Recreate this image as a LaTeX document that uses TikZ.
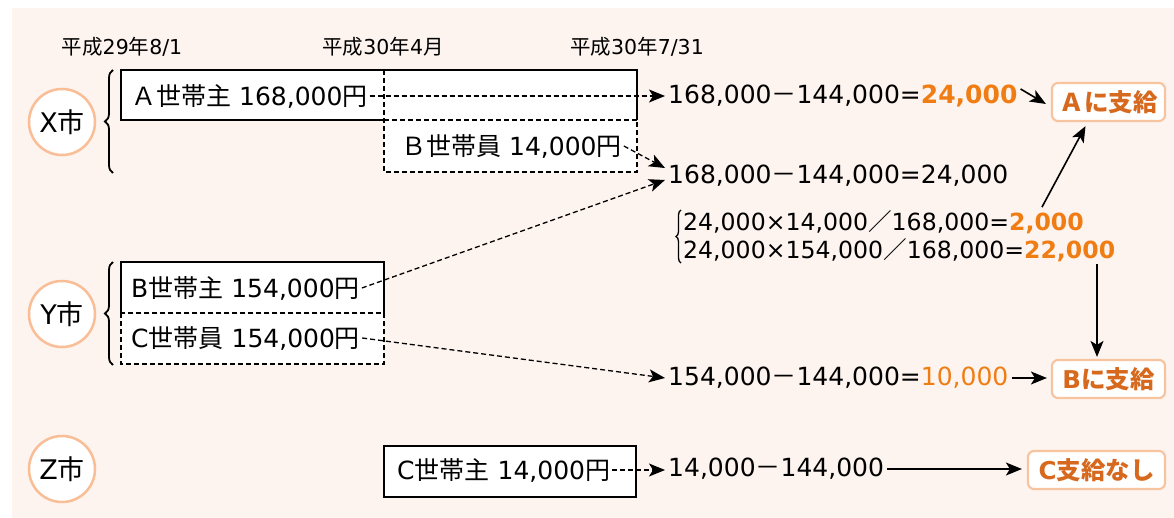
\documentclass[tikz,border=0pt]{standalone}
\usepackage{fontspec}
\setmainfont{DejaVu Sans}
\newfontfamily\jpf{Noto Sans CJK JP}
\newcommand\J[1]{{\jpf #1}}
\usetikzlibrary{arrows.meta,decorations.pathreplacing}
\definecolor{bgpink}{RGB}{253,243,239}
\definecolor{orng}{RGB}{240,125,20}
\definecolor{payt}{RGB}{214,105,30}
\definecolor{payb}{RGB}{248,196,160}
\definecolor{circ}{RGB}{249,190,150}
\begin{document}
\begin{tikzpicture}[x=1pt,y=-1pt,
  lbl/.style={inner sep=0pt, anchor=west, font=\fontsize{25}{30}\selectfont},
  fml/.style={inner sep=0pt, anchor=west, font=\fontsize{23.6}{28}\selectfont},
  datelbl/.style={inner sep=0pt, font=\fontsize{20.5}{24}\selectfont},
  city/.style={circle, draw=circ, line width=2.5pt, fill=white, minimum size=66pt, inner sep=0pt, font=\fontsize{27}{30}\selectfont},
  pay/.style={rounded corners=6pt, draw=payb, line width=2.2pt, fill=white, text=payt, font=\fontsize{24.5}{28}\selectfont\bfseries, inner sep=0pt, minimum height=38pt},
  solidline/.style={line width=1.3pt},
  dashline/.style={line width=1.1pt, dash pattern=on 5pt off 3pt},
  darr/.style={line width=1.3pt, dash pattern=on 5pt off 3pt, -{Stealth[length=16pt,width=13pt,inset=4pt]}},
  sarr/.style={line width=1.6pt, -{Stealth[length=16pt,width=13pt,inset=4pt]}},
  bracestyle/.style={line width=1.8pt, decorate, decoration={brace, amplitude=8pt}}
]
\useasboundingbox (0,0) rectangle (1174,518);
\fill[bgpink] (12,8) rectangle (1174,518);

% dates
\node[datelbl] (d1) at (122,47) {\J{平成}29\J{年}8/1};
\node[datelbl] (d2) at (383,47) {\J{平成}30\J{年}4\J{月}};
\node[datelbl] (d3) at (637,47) {\J{平成}30\J{年}7/31};

% city circles
\node[city] (X) at (62,122) {X\J{市}};
\node[city] (Y) at (62,314) {Y\J{市}};
\node[city] (Z) at (62,469) {Z\J{市}};

% braces
\draw[bracestyle] (113,173) -- (113,70);
\draw[bracestyle] (113,365) -- (113,262);

% X boxes
\fill[white] (121,70) rectangle (637,120);
\fill[white] (384,120) rectangle (637,172);
\draw[solidline] (384,120) -- (121,120) -- (121,70) -- (637,70) -- (637,120);
\draw[dashline] (384,70) rectangle (637,172);
\draw[dashline] (384,120) -- (637,120);

% Y boxes
\fill[white] (121,262) rectangle (384,364);
\draw[solidline] (121,313) -- (121,262) -- (384,262) -- (384,313);
\draw[dashline] (121,313) rectangle (384,364);

% Z box
\draw[solidline, fill=white] (384,446) rectangle (636,497);

% box texts
\node[lbl] (ah) at (131,96) {\J{Ａ世帯主} 168,000\J{円}};
\node[lbl] (bm) at (401,146) {\J{Ｂ世帯員} 14,000\J{円}};
\node[lbl] (bh) at (131,288) {B\J{世帯主} 154,000\J{円}};
\node[lbl] (cm) at (131,338) {C\J{世帯員} 154,000\J{円}};
\node[lbl] (ch) at (397,470) {C\J{世帯主} 14,000\J{円}};

% right-side texts
\node[lbl] (r1) at (668,96) {168,000\J{－}144,000=\textcolor{orng}{\bfseries 24,000}};
\node[lbl] (r2) at (668,176) {168,000\J{－}144,000=24,000};
\node[fml] (f1) at (683,222) {24,000×14,000\J{／}168,000=\textcolor{orng}{\bfseries 2,000}};
\node[fml] (f2) at (683,250) {24,000×154,000\J{／}168,000=\textcolor{orng}{\bfseries 22,000}};
\draw[line width=1.3pt, decorate, decoration={brace, amplitude=5pt}] (681,263) -- (681,210);
\node[lbl] (r3) at (668,378) {154,000\J{－}144,000=\textcolor{orng}{10,000}};
\node[lbl] (r4) at (668,469) {14,000\J{－}144,000};

% payment boxes
\node[pay, minimum width=113pt] (pa) at (1108.5,102) {\J{\bfseries Ａに支給}};
\node[pay, minimum width=113pt] (pb) at (1108.5,379) {B\J{\bfseries に支給}};
\node[pay, minimum width=137pt] (pc) at (1096.5,470) {C\J{\bfseries 支給なし}};

% dashed arrows
\draw[darr] ([xshift=2pt]ah.east) -- ([xshift=-3pt]ah.east -| r1.west);
\draw[darr] ([xshift=2pt]bm.east) -- ([xshift=-3pt,yshift=8pt]r2.west);
\draw[darr] ([xshift=2pt]bh.east) -- ([xshift=-3pt,yshift=-4pt]r2.west);
\draw[darr] ([xshift=2pt]cm.east) -- ([xshift=-3pt]r3.west);
\draw[darr] ([xshift=2pt]ch.east) -- ([xshift=-3pt]ch.east -| r4.west);

% solid arrows
\coordinate (vx) at (1097,0);
\draw[sarr] ([xshift=3pt,yshift=7pt]r1.east) -- ([xshift=-5pt,yshift=-2pt]pa.west);
\draw[sarr] ([xshift=-42pt,yshift=3pt]f1.north east) -- ([xshift=-23pt,yshift=-4pt]pa.south);
\draw[sarr] ([yshift=-2pt]vx |- f2.south) -- ([yshift=2pt]vx |- pb.north);
\draw[sarr] ([xshift=3pt]r3.east) -- ([xshift=-4pt]r3.east -| pb.west);
\draw[sarr] ([xshift=3pt]r4.east) -- ([xshift=-5pt]r4.east -| pc.west);
\end{tikzpicture}
\end{document}
